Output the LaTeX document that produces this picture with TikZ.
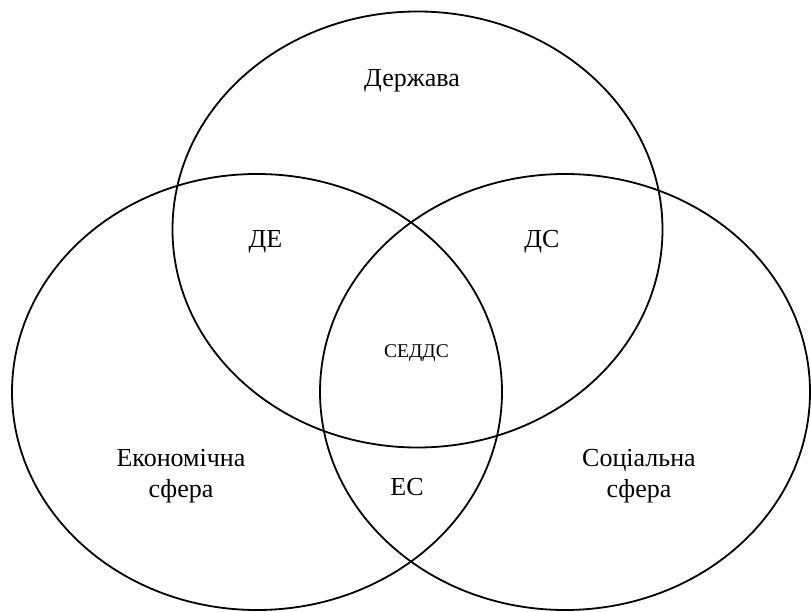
\documentclass[tikz,border=0pt]{standalone}
\usepackage{fontspec}
\setmainfont{Liberation Serif}
\usetikzlibrary{shapes.geometric, positioning}
\newcommand{\rx}{245}
\newcommand{\ry}{218}
\tikzset{
    sphere/.style={draw, line width=1.8pt, ellipse, minimum width=2*\rx pt, minimum height=2*\ry pt, inner sep=0pt},
    lbl/.style={font=\fontsize{26}{31}\selectfont, align=center, inner sep=0pt, anchor=base},
    core/.style={font=\fontsize{19.5}{22}\selectfont, inner sep=0pt, anchor=base},
}
\begin{document}
\begin{tikzpicture}[x=1pt, y=-1pt]
        \useasboundingbox (0,0) rectangle (811,612);
        % spheres
        \node (derzh) [sphere] at (417.5, 229.5) {};
        \node (econ) [sphere] at (257, 392) {};
        \node (soc) [sphere] at (565, 392) {};
        % labels
        \node (derzhlbl) [lbl] at (412, 87) {Держава};
        \node (econlbl) [lbl] at (181, 497) {Економічна\\сфера};
        \node (soclbl) [lbl] at (639, 497) {Соціальна\\сфера};
        \node (de) [lbl] at (265.5, 248) {ДЕ};
        \node (ds) [lbl] at (542, 248) {ДС};
        \node (es) [lbl] at (407, 495) {ЕС};
        \node (sedds) [core] at (416.5, 357) {СЕДДС};
\end{tikzpicture}
\end{document}
